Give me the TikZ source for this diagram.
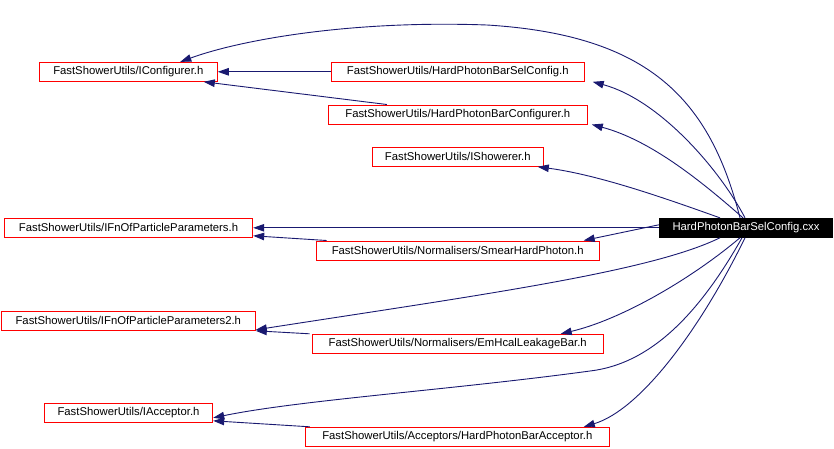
\documentclass[tikz,border=0pt]{standalone}
\usepackage{fontspec}
\setmainfont{Liberation Sans}
\usepackage{xcolor}
\usetikzlibrary{arrows.meta}
\definecolor{edgeblue}{HTML}{191970}
\tikzset{
    file-box/.style = {draw=red, fill=white, line width=1pt, rectangle, inner sep=0pt, minimum height=19pt, font=\fontsize{11.3}{13}\selectfont},
    main-box/.style = {fill=black, text=white, rectangle, inner sep=0pt, minimum height=19.5pt, font=\fontsize{11.3}{13}\selectfont},
    dep-edge/.style = {draw=edgeblue, line width=0.9pt, -{Triangle[length=11pt,width=7.5pt]}},
}
\begin{document}
\begin{tikzpicture}[x=1pt, y=-1pt]
\useasboundingbox (0,0) rectangle (834,448);
% included files
\node [file-box, minimum width=178pt] (cfg) at (128.3,71.8) {FastShowerUtils/IConfigurer.h};
\node [file-box, minimum width=253pt] (selcfg) at (457.7,71.8) {FastShowerUtils/HardPhotonBarSelConfig.h};
\node [file-box, minimum width=259pt] (hpbcfg) at (457.8,114.5) {FastShowerUtils/HardPhotonBarConfigurer.h};
\node [file-box, minimum width=171pt] (shw) at (457.8,156.8) {FastShowerUtils/IShowerer.h};
\node [file-box, minimum width=248.4pt] (fnp) at (128.5,227.8) {FastShowerUtils/IFnOfParticleParameters.h};
\node [file-box, minimum width=283pt] (smear) at (457.7,250.5) {FastShowerUtils/Normalisers/SmearHardPhoton.h};
\node [file-box, minimum width=254pt] (fnp2) at (128.3,320.8) {FastShowerUtils/IFnOfParticleParameters2.h};
\node [file-box, minimum width=291pt] (emh) at (457.7,343.8) {FastShowerUtils/Normalisers/EmHcalLeakageBar.h};
\node [file-box, minimum width=168.4pt] (acc) at (128.5,412.8) {FastShowerUtils/IAcceptor.h};
\node [file-box, minimum width=304pt] (hpba) at (457.3,436.8) {FastShowerUtils/Acceptors/HardPhotonBarAcceptor.h};
\node [main-box, minimum width=174pt] (cxx) at (746,227.8) {HardPhotonBarSelConfig.cxx};
% edges from the source file
\draw [dep-edge] ([xshift=-6pt]cxx.north) .. controls (710,100) and (650,35) .. (487,25) .. controls (350,20) and (240,40) .. ([xshift=52pt]cfg.north);
\draw [dep-edge] ([xshift=-1pt]cxx.north) .. controls (720,170) and (660,100) .. ([xshift=8pt]selcfg.south east);
\draw [dep-edge] ([xshift=-3pt]cxx.north) .. controls (700,180) and (650,140) .. ([xshift=4pt]hpbcfg.south east);
\draw [dep-edge] ([xshift=-26pt]cxx.north) .. controls (670,200) and (600,175) .. ([xshift=-6pt]shw.south east);
\draw [dep-edge] (cxx.west) -- (fnp.east);
\draw [dep-edge] ([yshift=3pt]cxx.west) -- ([xshift=-16pt]smear.north east);
\draw [dep-edge] ([xshift=-26pt]cxx.south) .. controls (650,272) and (480,295) .. ([yshift=-9pt]fnp2.east);
\draw [dep-edge] ([xshift=-6pt]cxx.south) .. controls (690,280) and (620,320) .. ([xshift=-43pt]emh.north east);
\draw [dep-edge] ([xshift=-4pt]cxx.south) .. controls (690,330) and (640,365) .. (590,371) .. controls (450,390) and (300,400) .. ([yshift=-5pt]acc.east);
\draw [dep-edge] ([xshift=-1pt]cxx.south) .. controls (700,330) and (640,410) .. ([xshift=-26pt]hpba.north east);
% edges between headers
\draw [dep-edge] (selcfg.west) -- (cfg.east);
\draw [dep-edge] ([xshift=59pt]hpbcfg.north west) -- ([xshift=-14pt]cfg.south east);
\draw [dep-edge] ([xshift=11pt]smear.north west) -- ([yshift=2pt]fnp.south east);
\draw [dep-edge] ([xshift=-2pt]emh.north west) -- ([yshift=0pt]fnp2.south east);
\draw [dep-edge] ([xshift=5pt]hpba.north west) -- ([yshift=2pt]acc.south east);
\end{tikzpicture}
\end{document}
